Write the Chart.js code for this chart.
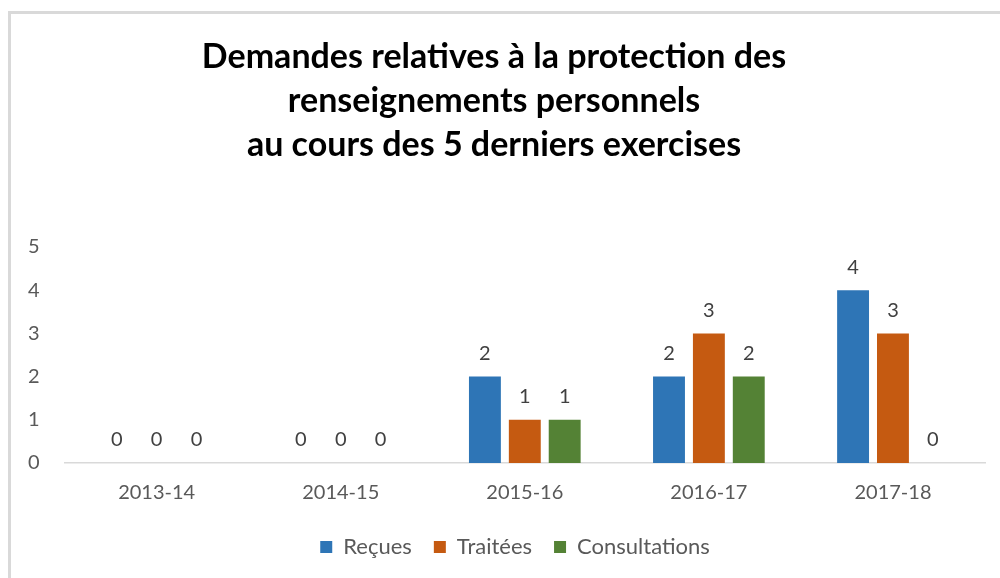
<!DOCTYPE html>
<html>
<head>
<meta charset="utf-8">
<script src="https://cdn.jsdelivr.net/npm/chart.js@4/dist/chart.umd.min.js"></script>
<style>
  body{margin:0;background:#fff;overflow:hidden;}
  #frame{position:absolute;left:8px;top:11px;width:1100px;height:700px;border-left:3px solid #d9d9d9;border-top:3px solid #d9d9d9;}
  #wrap{position:absolute;left:0;top:0;width:1000px;height:588px;}
</style>
</head>
<body>
<div id="frame"></div>
<div id="wrap"><canvas id="myChart"></canvas></div>
<script>
var exercices=["2013-14","2014-15","2015-16","2016-17","2017-18"];
var recues=[0,0,2,2,4];
var traitees=[0,0,1,3,3];
var consultations=[0,0,1,2,0];
var titre=["Demandes relatives à la protection des","renseignements personnels","au cours des 5 derniers exercises"];

// etiquettes au-dessus des barres
var etiquettes={
  id:'etiquettes',
  afterLayout:function(chart){
    // legende un peu decalee comme dans l'original
    chart.legend.left+=21;
    chart.legend.right+=21;
    chart.legend.top-=9;
    chart.legend.bottom-=9;
  },
  afterDatasetsDraw:function(chart){
    var ctx=chart.ctx;
    ctx.save();
    ctx.font='20px Lato';
    ctx.fillStyle='#404040';
    ctx.textAlign='center';
    ctx.textBaseline='bottom';
    chart.data.datasets.forEach(function(ds,i){
      var meta=chart.getDatasetMeta(i);
      meta.data.forEach(function(bar,j){
        ctx.fillText(ds.data[j],bar.x,bar.y-13);
      });
    });
    ctx.restore();
  }
};

var chardata={
  labels:exercices,
  datasets:[
    {label:"Reçues",data:recues,backgroundColor:"#2e75b6"},
    {label:"Traitées",data:traitees,backgroundColor:"#c55a11"},
    {label:"Consultations",data:consultations,backgroundColor:"#548235"}
  ]
};

var ctx=document.getElementById('myChart');
var barGraph=new Chart(ctx,{
  type:'bar',
  data:chardata,
  plugins:[etiquettes],
  options:{
    responsive:true,
    maintainAspectRatio:false,
    animation:false,
    layout:{padding:{left:3,right:15,top:0,bottom:11}},
    datasets:{bar:{categoryPercentage:0.65,barPercentage:0.8}},
    plugins:{
      title:{
        display:true,
        text:titre,
        color:'#000',
        font:{family:'Lato',size:34,weight:'bold',lineHeight:1.294},
        padding:{top:35,bottom:80}
      },
      legend:{
        display:true,
        position:'bottom',
        labels:{
          color:'#595959',
          font:{family:'Lato',size:22},
          boxWidth:12,
          boxHeight:12,
          padding:22
        }
      },
      tooltip:{enabled:false}
    },
    scales:{
      x:{
        grid:{display:false,drawTicks:false},
        border:{display:true,color:'#d9d9d9',width:1.5},
        ticks:{color:'#595959',font:{family:'Lato',size:20},padding:18}
      },
      y:{
        min:0,max:5,
        grid:{display:false,drawTicks:false},
        border:{display:false},
        ticks:{stepSize:1,color:'#595959',font:{family:'Lato',size:20},padding:25}
      }
    }
  }
});
</script>
</body>
</html>
